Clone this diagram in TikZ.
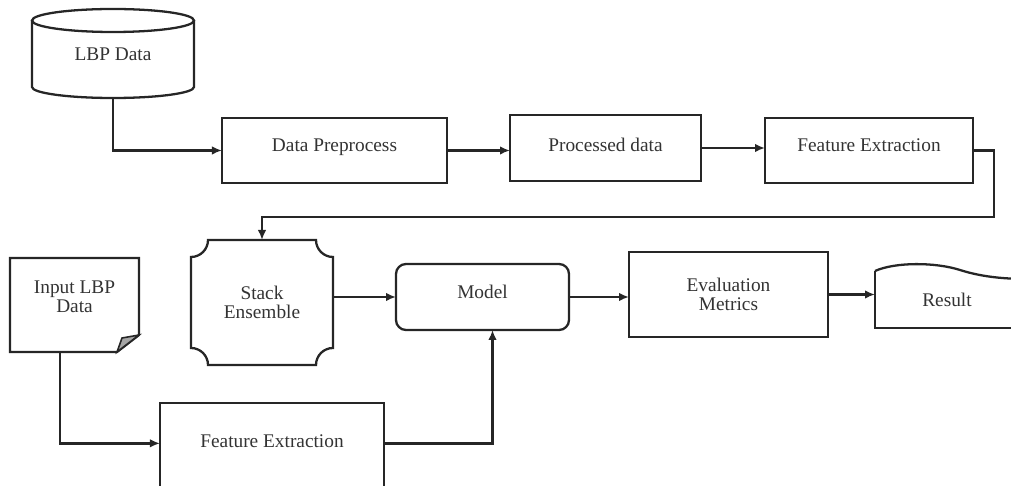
\documentclass[tikz,border=0pt]{standalone}
\usepackage{fontspec}
\setmainfont{Liberation Serif}
\usetikzlibrary{arrows.meta}

\begin{document}
\begin{tikzpicture}[x=0.2mm,y=0.2mm,
  line/.style={line width=1.3pt,black!85},
  arr/.style={line,-{Latex[length=2mm,width=1.7mm]}},
  box/.style={line,draw,rectangle,align=center,text=black!80,
    font=\fontsize{11}{10.5}\selectfont,outer sep=0pt},
  shell/.style={box,draw=none}]
\clip (0,0) rectangle (1011,-486);

% top row
\node[shell,minimum width=32.4mm,minimum height=15.5mm,text depth=2mm] (lbp) at (113,-59.25) {LBP Data};
\draw[line] (lbp.north) ellipse[x radius=16.2mm,y radius=2.3mm];
\draw[line] (lbp.north west) -- ([yshift=2.2mm]lbp.south west)
  arc[start angle=180,end angle=360,x radius=16.2mm,y radius=2.2mm] -- (lbp.north east);
\node[box,minimum width=45mm,minimum height=13mm,text depth=2mm] (prep) at (334.5,-150.5) {Data Preprocess};
\node[box,minimum width=38.2mm,minimum height=13.2mm,text depth=1.2mm] (proc) at (605.5,-148) {Processed data};
\node[box,minimum width=41.6mm,minimum height=13mm,text depth=2.2mm] (feat) at (869,-150.5) {Feature Extraction};

% middle row
\node[shell,minimum width=28.4mm,minimum height=25mm] (stack) at (262,-302.5) {Stack\\Ensemble};
\def\crad{3.4mm}
\draw[line] ([xshift=\crad]stack.north west) -- ([xshift=-\crad]stack.north east)
  arc[start angle=180,end angle=270,radius=\crad] -- ([yshift=\crad]stack.south east)
  arc[start angle=90,end angle=180,radius=\crad] -- ([xshift=\crad]stack.south west)
  arc[start angle=0,end angle=90,radius=\crad] -- ([yshift=-\crad]stack.north west)
  arc[start angle=270,end angle=360,radius=\crad] -- cycle;
\node[box,rounded corners=2mm,minimum width=34.6mm,minimum height=13.2mm,text depth=2mm] (model) at (482.5,-297) {Model};
\node[box,minimum width=39.8mm,minimum height=17mm] (eval) at (728.5,-294.5) {Evaluation\\Metrics};
\node[shell,minimum width=28.8mm,minimum height=11.4mm] (res) at (947,-299.5) {Result};
\draw[line] (res.north west) .. controls +(4mm,1.8mm) and +(-5mm,1.6mm) .. ++(17mm,0.2mm)
  .. controls +(5mm,-1.6mm) and +(-4mm,0) .. ++(14mm,-1.8mm);
\draw[line] (res.north west) -- (res.south west) -- ([xshift=5mm]res.south east);

% bottom row
\node[shell,minimum width=25.8mm,minimum height=18.8mm,text depth=3.4mm] (inp) at (74.5,-305) {Input LBP\\Data};
\draw[line] (inp.north west) -- (inp.north east) -- ([yshift=3.4mm]inp.south east)
  -- ([xshift=-4.4mm]inp.south east) -- (inp.south west) -- cycle;
\draw[line,fill=black!35,line width=0.9pt] ([xshift=-4.4mm]inp.south east)
  -- ([xshift=-3.4mm,yshift=2.8mm]inp.south east) -- ([yshift=3.4mm]inp.south east) -- cycle;
\node[box,minimum width=44.8mm,minimum height=20mm,text depth=4.8mm] (fe2) at (272,-453) {Feature Extraction};

% connectors
\draw[arr] (lbp.south) |- (prep.west);
\draw[arr] (prep.east) -- (proc.west |- prep.east);
\draw[arr] (proc.east) -- (feat.west |- proc.east);
\draw[arr] (feat.east) -- ++(4.2mm,0) -- ++(0,-13.3mm) -| (stack.north);
\draw[arr] (stack.east |- model.west) -- (model.west);
\draw[arr] (model.east) -- (eval.west |- model.east);
\draw[arr] (eval.east) -- (res.west |- eval.east);
\draw[arr] ([xshift=-2.9mm]inp.south) |- (fe2.mid west);
\draw[arr] (fe2.mid east) -| ([xshift=2mm]model.south);
\end{tikzpicture}
\end{document}
